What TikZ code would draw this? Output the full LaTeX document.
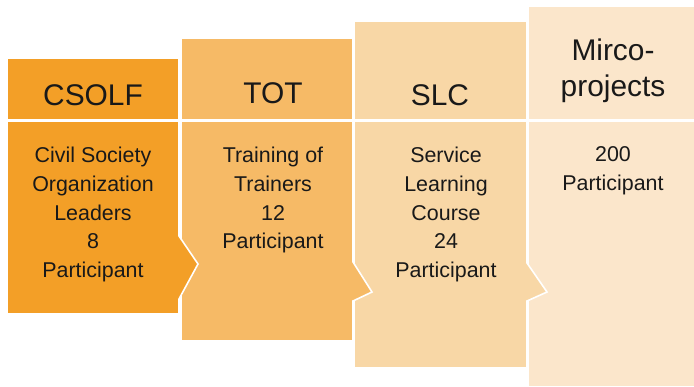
\documentclass[tikz,border=0pt]{standalone}
\usepackage{fontspec}
\setmainfont{Liberation Sans}
\definecolor{cA}{HTML}{F39F27}
\definecolor{cB}{HTML}{F6BA66}
\definecolor{cC}{HTML}{F8D7A6}
\definecolor{cD}{HTML}{FBE6CB}
\begin{document}
\begin{tikzpicture}[x=1bp,y=-1bp,
  blk/.style={draw=white,line width=1.6bp,line join=miter},
  head/.style={font=\fontsize{30}{35}\selectfont,align=center,text=black!90,inner sep=0pt},
  body/.style={font=\fontsize{21.5}{29}\selectfont,align=center,text=black!90,inner sep=0pt,anchor=north}]
\useasboundingbox (0,0) rectangle (694,386);
% column 4
\path[blk,fill=cD] (528,6) rectangle (695,120);
\path[blk,fill=cD] (528,121) rectangle (695,387);
% column 3
\path[blk,fill=cC] (354,21) rectangle (527,120);
\path[blk,fill=cC] (354,121) -- (527,121) -- (527,263) -- (547,292) -- (527,301) -- (527,368) -- (354,368) -- cycle;
% column 2
\path[blk,fill=cB] (181,38) rectangle (353,120);
\path[blk,fill=cB] (181,121) -- (353,121) -- (353,262) -- (372,292) -- (353,301) -- (353,341) -- (181,341) -- cycle;
% column 1
\path[blk,fill=cA] (7,58) rectangle (179,120);
\path[blk,fill=cA] (7,121) -- (179,121) -- (179,236) -- (198,264) -- (179,299) -- (179,314) -- (7,314) -- cycle;
% headers
\node[head] (h1) at (93,95) {CSOLF};
\node[head] (h2) at (273,93) {TOT};
\node[head] (h3) at (440,95) {SLC};
\node[head,font=\fontsize{30}{36}\selectfont] (h4) at (613,71) {Mirco-\\projects};
% bodies
\node[body] (b1) at (93,146.5) {Civil Society\\Organization\\Leaders\\8\\Participant};
\node[body] (b2) at (273,146.5) {Training of\\Trainers\\12\\Participant};
\node[body] (b3) at (446,146.5) {Service\\Learning\\Course\\24\\Participant};
\node[body] (b4) at (613,146.5) {200\\Participant};
\end{tikzpicture}
\end{document}
